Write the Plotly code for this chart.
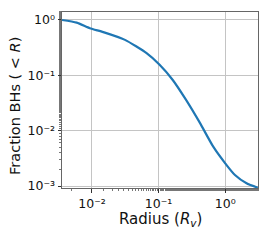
import plotly.graph_objects as go

radius = [0.00355, 0.0059, 0.0093, 0.0148, 0.0313, 0.066, 0.1035, 0.162, 0.257, 0.417, 0.661, 1.0, 1.40, 2.09, 3.09]
fraction = [1.0, 0.895, 0.708, 0.603, 0.437, 0.251, 0.155, 0.0832, 0.0363, 0.0138, 0.00513, 0.00257, 0.00158, 0.00112, 0.00093]

xtick_vals = [0.01, 0.1, 1]
xtick_text = ["10⁻²", "10⁻¹", "10⁰"]
ytick_vals = [0.001, 0.01, 0.1, 1]
ytick_text = ["10⁻³", "10⁻²", "10⁻¹", "10⁰"]
x_title = "Radius (<i>R<sub>v</sub></i>)"
y_title = "Fraction BHs ( < <i>R</i>)"

fig = go.Figure()
fig.add_trace(go.Scatter(x=radius, y=fraction, mode="lines",
                         line=dict(color="#1f77b4", width=2.2, shape="spline", smoothing=0.6)))

axis_common = dict(
    type="log", showline=True, mirror=True, linecolor="#666666", linewidth=1,
    showgrid=True, gridcolor="#c4c4c4", gridwidth=1, zeroline=False, automargin=False,
    ticks="outside", ticklen=3.5, tickcolor="#333333", tickwidth=1,
    tickfont=dict(family="DejaVu Sans", size=12.5, color="#111111"),
    minor=dict(ticks="outside", ticklen=2, tickcolor="#777777", tickwidth=0.6, showgrid=False),
)

fig.update_xaxes(**axis_common, range=[-2.45, 0.492], tickvals=xtick_vals, ticktext=xtick_text)
fig.update_yaxes(**axis_common, range=[-3.036, 0.144], tickvals=ytick_vals, ticktext=ytick_text)

title_font = dict(family="DejaVu Sans", size=15, color="#111111")
fig.add_annotation(text=x_title, xref="paper", yref="paper", x=0.5, y=-0.178,
                   xanchor="center", yanchor="middle", showarrow=False, font=title_font)
fig.add_annotation(text=y_title, xref="paper", yref="paper", x=-0.24, y=0.466, textangle=-90,
                   xanchor="center", yanchor="middle", showarrow=False, font=dict(title_font, size=14.5))

fig.update_layout(width=269, height=240, margin=dict(l=62, r=11, t=12, b=52),
                  paper_bgcolor="white", plot_bgcolor="white", showlegend=False)
fig.write_html("out.html", config={"displayModeBar": False},
               post_script="document.body.style.margin='0';document.body.style.padding='0';")
